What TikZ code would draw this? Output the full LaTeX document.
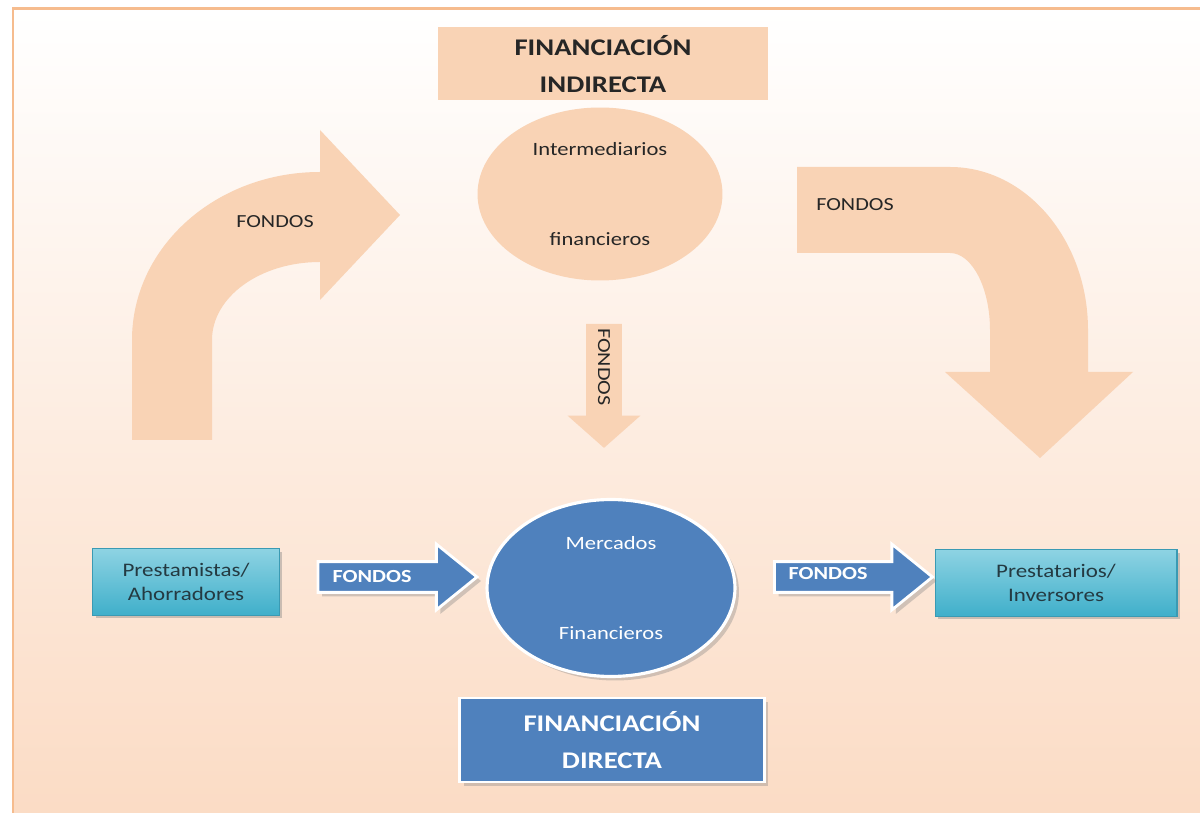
\documentclass[tikz,border=0pt]{standalone}
\usepackage{fontspec}
\setmainfont{Carlito}[FakeStretch=1.2]
\usetikzlibrary{positioning, shapes.geometric, shapes.arrows, shadows}
\definecolor{cInk}{HTML}{262626}
\definecolor{cPeach}{HTML}{F9D3B5}
\definecolor{cBgLow}{HTML}{FBDAC2}
\definecolor{cFrame}{HTML}{F6BC8E}
\definecolor{cBlue}{HTML}{4F81BD}
\definecolor{cTeal}{HTML}{3FAFCA}
\definecolor{cTealL}{HTML}{8ED3E3}
\definecolor{cTealD}{HTML}{3A9AB3}
\definecolor{cTealInk}{HTML}{243A42}
\newcommand{\dgfont}{\fontsize{13.6}{21}\selectfont\bfseries}
\tikzset{
  base/.style={align=center, inner sep=0pt, text=cInk},
  titlebox/.style={base, rectangle, font=\dgfont, minimum width=6.6cm, minimum height=1.46cm},
  peachbox/.style={titlebox, fill=cPeach},
  bluebox/.style={titlebox, fill=cBlue, draw=white, line width=1.6pt, text=white,
                  minimum width=6.1cm, minimum height=1.68cm,
                  drop shadow={shadow xshift=0.8mm, shadow yshift=-0.8mm, opacity=0.35}},
  peachell/.style={base, ellipse, fill=cPeach, font=\fontsize{10.7}{13}\selectfont},
  blueell/.style={base, ellipse, fill=cBlue, draw=white, line width=1.8pt, text=white,
                  font=\fontsize{10.7}{13}\selectfont,
                  drop shadow={shadow xshift=0.8mm, shadow yshift=-0.8mm, opacity=0.35}},
  tealbox/.style={base, rectangle, draw=cTealD, line width=0.6pt, top color=cTealL,
                  bottom color=cTeal, text=cTealInk, font=\fontsize{10.9}{14}\selectfont,
                  minimum height=1.34cm,
                  drop shadow={shadow xshift=0.6mm, shadow yshift=-0.6mm, opacity=0.4}},
  bluearr/.style={single arrow, fill=cBlue, draw=white, line width=1.6pt, inner sep=0pt,
                  minimum height=3.18cm, minimum width=1.26cm, inner ysep=0.28cm,
                  single arrow head extend=0.35cm, single arrow tip angle=78,
                  drop shadow={shadow xshift=0.8mm, shadow yshift=-0.8mm, opacity=0.35}},
  peacharr/.style={single arrow, fill=cPeach, inner sep=0.35cm, minimum height=2.48cm,
                  minimum width=1.44cm, single arrow head extend=0.37cm,
                  single arrow tip angle=97, shape border rotate=270},
  blk/.style={fill=cPeach},
  frame/.style={draw=cFrame, line width=1.7pt},
  lab/.style={font=\fontsize{10.5}{12}\selectfont, text=cInk},
  wlab/.style={font=\fontsize{10.5}{12}\selectfont\bfseries, text=white},
}

\begin{document}
\begin{tikzpicture}[x=0.02cm, y=-0.02cm]
  \useasboundingbox (0,0) rectangle (1200,813);
  \clip (0,0) rectangle (1200,813);
  \fill[white] (0,0) rectangle (1200,813);
  % ---- page background and frame
  \shade[top color=white, bottom color=cBgLow] (13,9) rectangle (1240,850);
  \draw[frame] (13,9) rectangle (1240,850);

  % ---- indirect financing (top)
  \node[peachbox] (tind) at (603,64) {FINANCIACIÓN\\ INDIRECTA};
  \node[peachell, minimum width=4.9cm, minimum height=3.46cm] (inter) at (600,194)
       {Intermediarios\\[1.34cm] financieros};

  % ---- curved block arrows
  \fill[blk] (132,440) -- (132,340) .. controls (132,247) and (216,172) .. (320,172)
    -- (320,130) -- (400,215) -- (320,300) -- (320,262)
    .. controls (260,262) and (212,297) .. (212,340) -- (212,440) -- cycle;
  \node[lab] at (275,222) {FONDOS};
  \fill[blk] (797,167) -- (950,167) .. controls (1026,167) and (1088,240) .. (1088,330)
    -- (1088,372) -- (1133,372) -- (1040,458) -- (945,372) -- (990,372) -- (990,330)
    .. controls (990,288) and (972,253) .. (950,253) -- (797,253) -- cycle;
  \node[lab] at (855,205) {FONDOS};

  % ---- down arrow from intermediaries
  \node[peacharr] (down) at (604,378) {};
  \node[lab, rotate=-90] at (604,367) {FONDOS};

  % ---- direct financing (bottom)
  \node[tealbox, minimum width=3.74cm] (lend) at (186,582) {Prestamistas/\\ Ahorradores};
  \node[blueell, minimum width=4.96cm, minimum height=3.54cm] (mkt) at (611,588)
       {Mercados\\[1.34cm] Financieros};
  \node[tealbox, minimum width=4.84cm] (borr) at (1056,583) {Prestatarios/\\ Inversores};
  \node[bluearr] (fl) at (388,577) {};
  \node[wlab] at (372,577) {FONDOS};
  \node[bluearr, minimum height=3.16cm] (fr) at (844,577) {};
  \node[wlab] at (828,574) {FONDOS};
  \node[bluebox] (tdir) at (612,740) {FINANCIACIÓN\\ DIRECTA};
\end{tikzpicture}
\end{document}
